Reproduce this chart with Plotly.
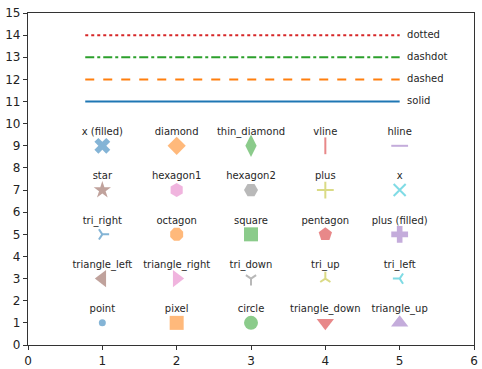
import plotly.graph_objects as go

# ---- data ----
marker_names = ["point", "pixel", "circle", "triangle_down", "triangle_up",
                "triangle_left", "triangle_right", "tri_down", "tri_up", "tri_left",
                "tri_right", "octagon", "square", "pentagon", "plus (filled)",
                "star", "hexagon1", "hexagon2", "plus", "x",
                "x (filled)", "diamond", "thin_diamond", "vline", "hline"]
marker_x = [1, 2, 3, 4, 5] * 5
marker_y = [1] * 5 + [3] * 5 + [5] * 5 + [7] * 5 + [9] * 5
marker_symbols = ["circle", "square", "circle", "triangle-down", "triangle-up",
                  "triangle-left", "triangle-right", "y-down", "y-up", "y-left",
                  "y-right", "octagon", "square", "pentagon", "cross",
                  "star", "hexagon", "hexagon2", "cross-thin-open", "x-thin-open",
                  "x", "diamond", "diamond-tall", "line-ns-open", "line-ew-open"]

line_names = ["solid", "dashed", "dashdot", "dotted"]
line_y = [11, 12, 13, 14]
line_x_start = 0.77
line_x_end = 5.0
line_dash = ["solid", "dash", "dashdot", "dot"]

x_ticks = [0, 1, 2, 3, 4, 5, 6]
y_ticks = list(range(0, 16))

tab10 = ["#1f77b4", "#ff7f0e", "#2ca02c", "#d62728", "#9467bd",
         "#8c564b", "#e377c2", "#7f7f7f", "#bcbd22", "#17becf"]

fig = go.Figure()

open_like = {"y-down", "y-up", "y-left", "y-right", "cross-thin-open",
             "x-thin-open", "line-ns-open", "line-ew-open"}

sizes = {"circle": 14, "square": 14, "triangle-down": 15, "triangle-up": 15,
         "triangle-left": 15, "triangle-right": 15, "y-down": 8.5, "y-up": 8.5,
         "y-left": 8.5, "y-right": 8.5, "octagon": 14, "pentagon": 14, "cross": 14,
         "star": 13, "hexagon": 14, "hexagon2": 14, "cross-thin-open": 12,
         "x-thin-open": 12, "x": 14, "diamond": 14, "diamond-tall": 16,
         "line-ns-open": 12, "line-ew-open": 12}

for i, (name, x, y, sym) in enumerate(zip(marker_names, marker_x, marker_y, marker_symbols)):
    color = tab10[i % 10]
    size = 7 if name == "point" else sizes[sym]
    lw = 2 if sym in open_like else 0
    fig.add_trace(go.Scatter(
        x=[x], y=[y], mode="markers",
        marker=dict(symbol=sym, size=size, color=color, opacity=0.55,
                    line=dict(color=color, width=lw)),
        showlegend=False, hoverinfo="skip"))

fig.add_trace(go.Scatter(
    x=marker_x, y=[v + 0.6 for v in marker_y], mode="text", text=marker_names,
    textposition="middle center",
    textfont=dict(family="DejaVu Sans", size=10, color="#262626"),
    showlegend=False, hoverinfo="skip"))

for i, (name, y, dash) in enumerate(zip(line_names, line_y, line_dash)):
    fig.add_trace(go.Scatter(
        x=[line_x_start, line_x_end], y=[y, y], mode="lines",
        line=dict(color=tab10[i], width=2, dash=dash),
        showlegend=False, hoverinfo="skip"))

fig.add_trace(go.Scatter(
    x=[5.1] * len(line_names), y=line_y, mode="text", text=line_names,
    textposition="middle right",
    textfont=dict(family="DejaVu Sans", size=10, color="#262626"),
    showlegend=False, hoverinfo="skip"))

axis_common = dict(showline=True, linecolor="#333", linewidth=1.2, mirror=True,
                   ticks="outside", ticklen=4, tickcolor="#333", showgrid=False,
                   zeroline=False, automargin=False,
                   tickfont=dict(family="DejaVu Sans", size=12, color="#222"))

fig.update_layout(
    width=482, height=369,
    margin=dict(l=28, r=8, t=13, b=24),
    plot_bgcolor="white", paper_bgcolor="white",
    xaxis=dict(range=[0, 6], tickvals=x_ticks, **axis_common),
    yaxis=dict(range=[0, 15], tickvals=y_ticks, **axis_common),
)

fig.write_html("out.html", config={"displayModeBar": False},
               post_script="document.body.style.margin='0';")
